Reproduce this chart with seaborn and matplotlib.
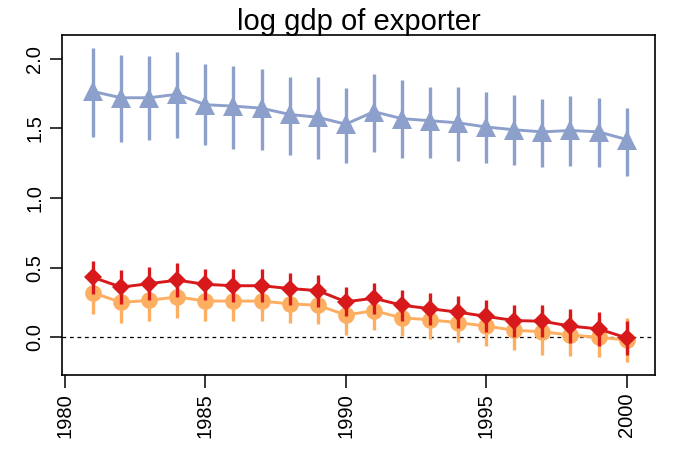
import numpy as np
import pandas as pd
import seaborn as sns
import matplotlib.pyplot as plt

years = list(range(1981, 2001))

# blue triangles
blue_est = [1.765, 1.72, 1.72, 1.745, 1.67, 1.66, 1.645, 1.60, 1.58, 1.53,
            1.62, 1.57, 1.555, 1.54, 1.51, 1.49, 1.475, 1.485, 1.475, 1.42]
blue_lo = [1.44, 1.40, 1.42, 1.43, 1.38, 1.35, 1.345, 1.31, 1.28, 1.255,
           1.33, 1.285, 1.285, 1.265, 1.25, 1.24, 1.225, 1.23, 1.225, 1.16]
blue_hi = [2.08, 2.03, 2.02, 2.05, 1.96, 1.95, 1.93, 1.87, 1.87, 1.79,
           1.89, 1.85, 1.80, 1.80, 1.76, 1.74, 1.71, 1.73, 1.72, 1.65]

# red diamonds
red_est = [0.43, 0.36, 0.385, 0.41, 0.38, 0.37, 0.37, 0.35, 0.335, 0.255,
           0.28, 0.23, 0.205, 0.18, 0.15, 0.12, 0.115, 0.08, 0.06, -0.005]
red_err = [0.12, 0.12, 0.12, 0.12, 0.11, 0.12, 0.12, 0.115, 0.115, 0.105,
           0.11, 0.11, 0.115, 0.115, 0.115, 0.115, 0.115, 0.12, 0.12, 0.125]

# orange circles
orange_est = [0.32, 0.25, 0.265, 0.29, 0.26, 0.26, 0.26, 0.24, 0.23, 0.16,
              0.19, 0.14, 0.125, 0.105, 0.08, 0.05, 0.04, 0.015, 0.0, -0.02]
orange_err = [0.155, 0.15, 0.15, 0.15, 0.145, 0.145, 0.14, 0.14, 0.135, 0.145,
              0.14, 0.13, 0.14, 0.14, 0.145, 0.145, 0.17, 0.15, 0.14, 0.16]

x_ticks = [1980, 1985, 1990, 1995, 2000]
y_ticks = [0.0, 0.5, 1.0, 1.5, 2.0]

df = pd.DataFrame({
    "year": years * 3,
    "est": orange_est + red_est + blue_est,
    "lo": list(np.subtract(orange_est, orange_err)) + list(np.subtract(red_est, red_err)) + blue_lo,
    "hi": list(np.add(orange_est, orange_err)) + list(np.add(red_est, red_err)) + blue_hi,
    "group": ["orange"] * 20 + ["red"] * 20 + ["blue"] * 20,
})

colors = {"orange": "#FDAE61", "red": "#D7191C", "blue": "#8DA0CB"}
markers = {"orange": "o", "red": "D", "blue": "^"}
msize = {"orange": 12, "red": 9.5, "blue": 14}

sns.set_style("white")
plt.rcParams['font.family'] = ['Liberation Sans', 'DejaVu Sans']
plt.rcParams['text.color'] = 'black'
plt.rcParams['xtick.color'] = 'black'
plt.rcParams['ytick.color'] = 'black'
plt.rcParams['axes.labelcolor'] = 'black'

fig = plt.figure(figsize=(6.75, 4.5), dpi=100)
ax = fig.add_axes([0.092, 0.167, 0.878, 0.755])

ax.axhline(0, color="black", lw=0.9, ls=(0, (3, 3)), zorder=1)

for i, g in enumerate(["orange", "red", "blue"]):
    d = df[df.group == g]
    ax.vlines(d.year, d.lo, d.hi, color=colors[g], lw=2.4, zorder=2 + 2 * i)
    sns.lineplot(data=d, x="year", y="est", color=colors[g], lw=2.1,
                 marker=markers[g], markersize=msize[g], markeredgewidth=0,
                 ax=ax, zorder=3 + 2 * i)

ax.set_xlim(1979.9, 2001.0)
ax.set_ylim(-0.27, 2.17)
ax.set_xticks(x_ticks)
ax.set_yticks(y_ticks)
ax.set_xticklabels([str(v) for v in x_ticks], rotation=90, fontsize=14.5)
ax.set_yticklabels([f"{v:.1f}" for v in y_ticks], rotation=90, va="center", fontsize=14.5)
ax.tick_params(axis="both", direction="out", length=9, width=1.1, color="black",
               labelcolor="black", bottom=True, left=True, pad=4)
for s in ax.spines.values():
    s.set_color("black")
    s.set_linewidth(1.2)
ax.set_xlabel("")
ax.set_ylabel("")
ax.set_title("log gdp of exporter", fontsize=21, pad=4, color="black")

fig.savefig("out.png", dpi=100)
